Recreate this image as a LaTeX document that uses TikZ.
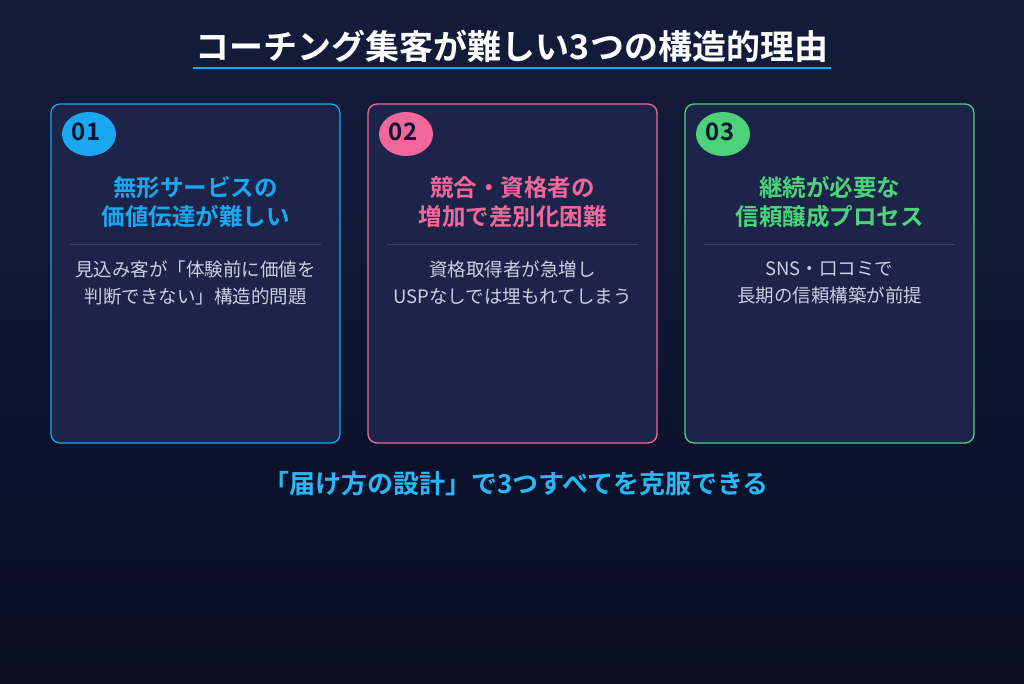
\documentclass[tikz,border=0pt]{standalone}
\usepackage{fontspec}
\setmainfont{Noto Sans CJK JP}[BoldFont={* Bold}]
\newfontfamily\jpb{Noto Sans CJK JP Bold}
\begin{document}
\begin{tikzpicture}[x=1pt,y=-1pt,
  card/.style={draw=#1,line width=1.3pt,rounded corners=9pt,fill=cardbg},
  head/.style={text=#1,font=\jpb\fontsize{23.5}{29}\selectfont,align=center},
  bodyt/.style={text=bodyc,font=\fontsize{18.5}{27}\selectfont,align=center},
  num/.style={font=\jpb\fontsize{24}{24}\selectfont,text=numc}]
\definecolor{bgtop}{HTML}{141C3C}
\definecolor{bgbot}{HTML}{090E24}
\definecolor{cardbg}{HTML}{1C2549}
\definecolor{cblue}{HTML}{1BA6F2}
\definecolor{cpink}{HTML}{F2679A}
\definecolor{cgreen}{HTML}{4CD27A}
\definecolor{bodyc}{HTML}{C9CFE3}
\definecolor{numc}{HTML}{0E1430}
\definecolor{sepc}{HTML}{3A4468}
\definecolor{cyanc}{HTML}{29B8F5}
\shade[top color=bgtop,bottom color=bgbot] (0,0) rectangle (1024,683);
\useasboundingbox (0,0) rectangle (1024,683);
\node[text=white,font=\jpb\fontsize{34}{36}\selectfont] (title) at (512,46) {コーチング集客が難しい3つの構造的理由};
\draw[cblue,line width=2.5pt] (193,68) -- (831,68);
\foreach \i/\x/\c/\n/\ha/\hb/\ba/\bb in {
 1/51/cblue/01/無形サービスの/価値伝達が難しい/見込み客が「体験前に価値を/判断できない」構造的問題,
 2/368/cpink/02/競合・資格者の/増加で差別化困難/資格取得者が急増し/USPなしでは埋もれてしまう,
 3/685/cgreen/03/継続が必要な/信頼醸成プロセス/SNS・口コミで/長期の信頼構築が前提}{
  \draw[card=\c] (\x,104) rectangle ++(289,339);
  \fill[\c] (\x+38,134) ellipse (27pt and 22pt);
  \node[num] (n\i) at (\x+35,132) {\n};
  \node[head=\c] (h\i) at (\x+144.5,202) {\ha\\\hb};
  \draw[sepc,line width=0.8pt] (\x+19,244) -- (\x+270,244);
  \node[bodyt] (b\i) at (\x+144.5,283) {\ba\\\bb};
}
\node[text=cyanc,font=\jpb\fontsize{26}{28}\selectfont] (foot) at (516,484) {「届け方の設計」で3つすべてを克服できる};
\end{tikzpicture}
\end{document}
